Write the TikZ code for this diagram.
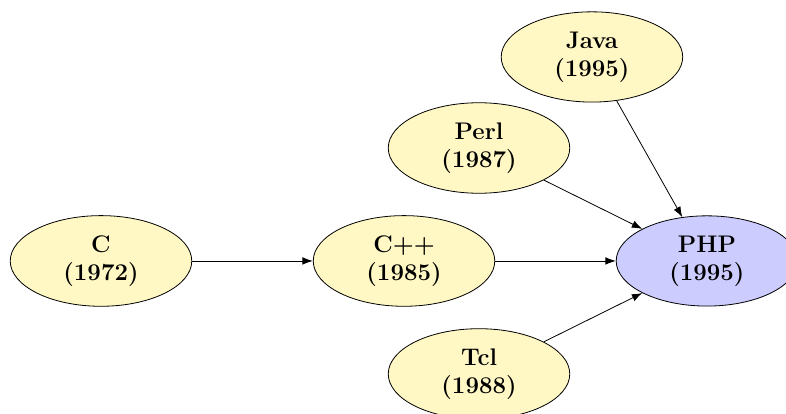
\documentclass[tikz,border=0pt]{standalone}
\usetikzlibrary{arrows.meta,shapes.geometric}
\definecolor{langfill}{HTML}{FFF8C4}
\definecolor{phpfill}{HTML}{CCCCFF}

\begin{document}
\begin{tikzpicture}
\def\pc{(1.775,2.689)}
\def\pcpp{(7.100,2.689)}
\def\pphp{(12.424,2.689)}
\def\pperl{(8.418,4.674)}
\def\pjava{(10.403,6.274)}
\def\ptcl{(8.418,0.703)}

\tikzstyle lang=[ellipse, draw, fill=langfill, minimum width=3.19cm, minimum height=1.54cm, font=\large\bfseries, align=center]
\tikzstyle link=[-{Latex[length=5.2pt,width=3.8pt]}]
\useasboundingbox (0,0) rectangle (13.813,7.275);

\node[lang] (c) at \pc {C\\(1972)};
\node[lang] (cpp) at \pcpp {C++\\(1985)};
\node[lang, fill=phpfill] (php) at \pphp {PHP\\(1995)};
\node[lang] (perl) at \pperl {Perl\\(1987)};
\node[lang] (java) at \pjava {Java\\(1995)};
\node[lang] (tcl) at \ptcl {Tcl\\(1988)};

\draw[link] (c) -- (cpp);
\draw[link] (cpp) -- (php);
\draw[link] (perl) -- (php);
\draw[link] (java) -- (php);
\draw[link] (tcl) -- (php);
\end{tikzpicture}
\end{document}
